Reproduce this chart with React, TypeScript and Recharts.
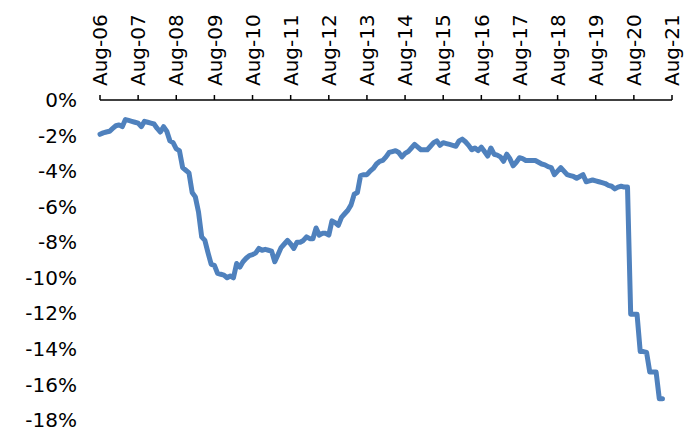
import React from 'react';
import { LineChart, Line, XAxis, YAxis } from 'recharts';

// one value per month, Aug-06 onwards (%)
const values = [
  -1.93, -1.85, -1.8, -1.76, -1.6, -1.45, -1.4, -1.5, -1.1, -1.15, -1.2, -1.25,
  -1.3, -1.5, -1.2, -1.25, -1.3, -1.35, -1.6, -1.8, -1.5, -1.75, -2.3, -2.4,
  -2.75, -2.85, -3.8, -3.95, -4.1, -5.2, -5.45, -6.3, -7.7, -7.9, -8.6, -9.25,
  -9.3, -9.75, -9.8, -9.85, -10.0, -9.9, -10.0, -9.2, -9.4, -9.1, -8.9, -8.75,
  -8.7, -8.6, -8.35, -8.45, -8.4, -8.45, -8.5, -9.1, -8.7, -8.3, -8.1, -7.9,
  -8.1, -8.35, -8.0, -8.0, -7.9, -7.7, -7.8, -7.8, -7.2, -7.6, -7.5, -7.5,
  -7.6, -6.8, -6.9, -7.05, -6.6, -6.4, -6.2, -5.9, -5.3, -5.2, -4.25, -4.2,
  -4.2, -4.0, -3.85, -3.6, -3.45, -3.4, -3.2, -2.95, -2.9, -2.85, -2.95, -3.2,
  -3.0, -2.9, -2.7, -2.5, -2.65, -2.8, -2.8, -2.8, -2.6, -2.4, -2.3, -2.55,
  -2.4, -2.45, -2.5, -2.55, -2.6, -2.3, -2.2, -2.35, -2.55, -2.8, -2.7, -2.85,
  -2.65, -2.9, -3.15, -2.7, -3.05, -3.1, -3.2, -3.45, -3.05, -3.3, -3.7, -3.5,
  -3.25, -3.3, -3.4, -3.4, -3.4, -3.4, -3.5, -3.6, -3.65, -3.75, -3.8, -4.2,
  -4.0, -3.8, -4.0, -4.2, -4.25, -4.3, -4.4, -4.3, -4.2, -4.6, -4.55, -4.5,
  -4.55, -4.6, -4.65, -4.7, -4.8, -4.85, -5.0, -4.9, -4.85, -4.9, -4.9, -12.05,
  -12.05, -12.05, -14.15, -14.15, -14.2, -15.3, -15.3, -15.3, -16.8, -16.8,
];

const xLabels = [
  'Aug-06', 'Aug-07', 'Aug-08', 'Aug-09', 'Aug-10', 'Aug-11', 'Aug-12', 'Aug-13',
  'Aug-14', 'Aug-15', 'Aug-16', 'Aug-17', 'Aug-18', 'Aug-19', 'Aug-20', 'Aug-21',
];

const yTicks = [0, -2, -4, -6, -8, -10, -12, -14, -16, -18];

const data = values.map((v, i) => ({ m: i, v }));
const xTicks = xLabels.map((_, i) => i * 12);

const font = '"DejaVu Sans", Verdana, sans-serif';

const TopTick = (props: any) => {
  const { x, y, payload } = props;
  return (
    <text
      x={x}
      y={y}
      dy="0.36em"
      textAnchor="start"
      transform={`rotate(-90, ${x}, ${y})`}
      fontFamily={font}
      fontSize={20}
      fill="#000"
    >
      {xLabels[payload.value / 12]}
    </text>
  );
};

export default function App() {
  return (
    <div style={{ position: 'absolute', left: 0, top: 0, background: '#fff' }}>
      <LineChart
        width={694}
        height={433}
        data={data}
        margin={{ top: 20, right: 22, bottom: 13, left: 40 }}
      >
        <XAxis
          dataKey="m"
          type="number"
          orientation="top"
          domain={[0, 180]}
          ticks={xTicks}
          interval={0}
          height={80}
          tickSize={5}
          tickMargin={9}
          axisLine={{ stroke: '#000', strokeWidth: 1.5 }}
          tickLine={{ stroke: '#000', strokeWidth: 1.5 }}
          tick={<TopTick />}
        />
        <YAxis
          type="number"
          domain={[-18, 0]}
          ticks={yTicks}
          interval={0}
          width={60}
          axisLine={false}
          tickLine={false}
          tickSize={0}
          tickMargin={23}
          tickFormatter={(v: number) => `${v}%`}
          tick={{ fontFamily: font, fontSize: 20, fill: '#000' }}
        />
        <Line
          dataKey="v"
          type="linear"
          stroke="#4F81BD"
          strokeWidth={5}
          strokeLinejoin="round"
          strokeLinecap="round"
          dot={false}
          isAnimationActive={false}
        />
      </LineChart>
    </div>
  );
}
